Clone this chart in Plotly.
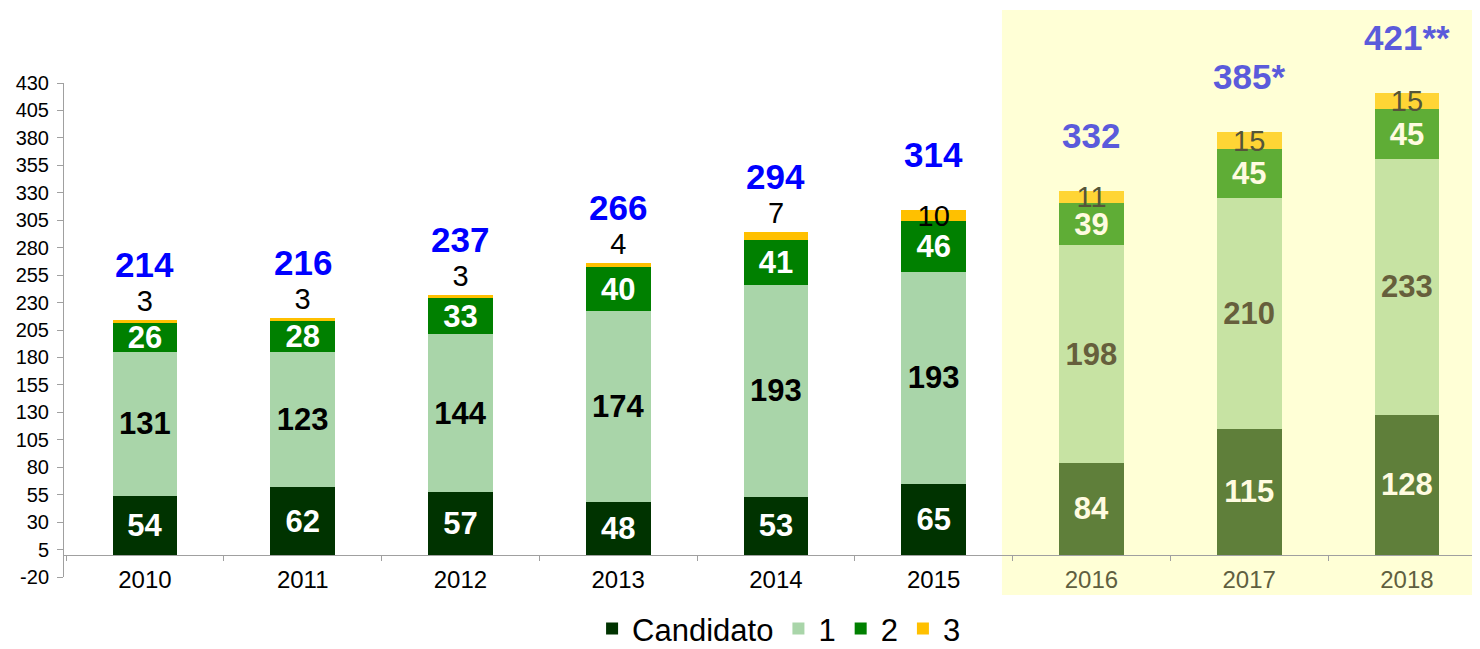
import plotly.graph_objects as go

# chart data
years = ["2010", "2011", "2012", "2013", "2014", "2015", "2016", "2017", "2018"]
candidato = [54, 62, 57, 48, 53, 65, 84, 115, 128]
nivel_1 = [131, 123, 144, 174, 193, 193, 198, 210, 233]
nivel_2 = [26, 28, 33, 40, 41, 46, 39, 45, 45]
nivel_3 = [3, 3, 3, 4, 7, 10, 11, 15, 15]
total_suffix = ["", "", "", "", "", "", "", "*", "**"]
y_ticks = list(range(-20, 431, 25))
n_actual = 6  # 2016-2018 sit in the highlighted (projected) band

FONT = "Liberation Sans, Arial, sans-serif"


def split_colors(actual, projected):
    return [actual if i < n_actual else projected for i in range(len(years))]


series = [
    # name, values, bar colour (actual, projected), text colour (actual, projected), bold
    ("Candidato", candidato, ("#003300", "#5f7f3a"), ("#ffffff", "#fffbe0"), True),
    ("1", nivel_1, ("#a9d5a9", "#c7e3a3"), ("#000000", "#665f3c"), True),
    ("2", nivel_2, ("#008000", "#5fad36"), ("#ffffff", "#fffbe0"), True),
    ("3", nivel_3, ("#ffc000", "#ffd535"), ("#000000", "#55553a"), False),
]

fig = go.Figure()
for name, values, bar_c, txt_c, bold in series:
    if name == "3":
        positions = ["outside" if v < 10 else "inside" for v in values]
    else:
        positions = "inside"
    fig.add_trace(go.Bar(
        name=name,
        x=years,
        y=values,
        text=[str(v) for v in values],
        textposition=positions,
        insidetextanchor="middle",
        textangle=0,
        constraintext="none",
        cliponaxis=False,
        textfont=dict(family=FONT, size=31 if bold else 29, color=split_colors(*txt_c),
                      weight="bold" if bold else "normal"),
        marker=dict(color=split_colors(*bar_c), line=dict(width=0)),
    ))

# totals above each bar
totals = [a + b + c + d for a, b, c, d in zip(candidato, nivel_1, nivel_2, nivel_3)]
total_colors = split_colors("#0000ff", "#5b5bdb")
for i, tot in enumerate(totals):
    fig.add_annotation(
        x=i, y=tot, text=f"{tot}{total_suffix[i]}",
        showarrow=False, yanchor="bottom", yshift=34,
        font=dict(family=FONT, size=35, color=total_colors[i], weight="bold"),
    )

# highlighted projection band
fig.add_shape(type="rect", xref="paper", yref="paper",
              x0=0.6624, x1=0.9986, y0=-0.0364, y1=1.148,
              fillcolor="#ffffd6", line=dict(width=0), layer="below")

tick_colors = split_colors("#000000", "#5f5f40")
tick_text = [f"<span style='color:{c}'>{y}</span>" for y, c in zip(years, tick_colors)]

# the page body adds an 8px margin, so sizes are offset by it
fig.update_layout(
    width=1472, height=641,
    margin=dict(l=56, r=0, t=75, b=72, autoexpand=False),
    barmode="stack",
    bargap=0.59,
    paper_bgcolor="white",
    plot_bgcolor="rgba(0,0,0,0)",
    font=dict(family=FONT, color="#000000"),
    showlegend=True,
    legend=dict(orientation="h", x=0.505, xanchor="center", y=-0.105, yanchor="middle",
                font=dict(family=FONT, size=31, color="#000000"),
                traceorder="normal", itemwidth=30),
    xaxis=dict(
        type="category",
        range=[-0.513, 8.463],
        tickmode="array", tickvals=list(range(len(years))), ticktext=tick_text,
        anchor="free", position=20 / 450,
        showline=True, linecolor="#a0a0a0", linewidth=1,
        ticks="outside", tickson="boundaries", ticklen=5, tickcolor="#a0a0a0",
        ticklabelstandoff=3,
        tickfont=dict(family=FONT, size=24),
        showgrid=False, zeroline=False,
    ),
    yaxis=dict(
        range=[-20, 430],
        tickmode="array", tickvals=y_ticks, ticktext=[str(v) for v in y_ticks],
        showline=True, linecolor="#a0a0a0", linewidth=1,
        ticks="outside", ticklen=6, tickcolor="#a0a0a0",
        ticklabelstandoff=4,
        tickfont=dict(family=FONT, size=20),
        showgrid=False, zeroline=False,
    ),
)

fig.write_html("out.html")
